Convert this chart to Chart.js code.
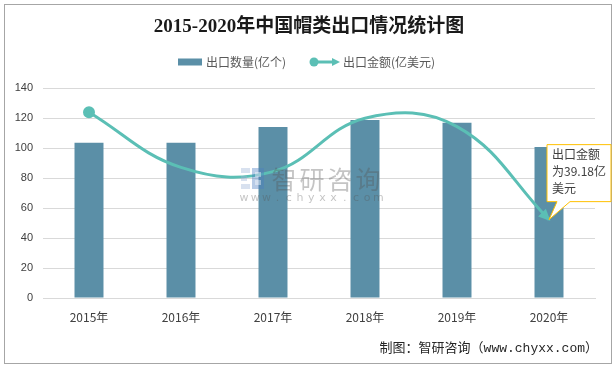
<!DOCTYPE html>
<html><head><meta charset="utf-8">
<script src="https://cdn.jsdelivr.net/npm/chart.js@4.4.1/dist/chart.umd.min.js"></script>
<style>html,body{margin:0;padding:0;background:#fff}#wrap{width:616px;height:370px;position:relative}</style>
</head><body><div id="wrap"><canvas id="c" width="616" height="370"></canvas></div>
<script>
const categories = ['2015年','2016年','2017年','2018年','2019年','2020年'];
const quantity = [103.5, 103.5, 114, 118.7, 116.9, 100.7];
const amount = [92.9, 65.3, 63.2, 89.9, 85.7, 39.18];
const yTicks = [0,20,40,60,80,100,120,140];
const titleText = '2015-2020年中国帽类出口情况统计图';
const seriesNames = ['出口数量(亿个)', '出口金额(亿美元)'];
const calloutLines = ['出口金额', '为39.18亿', '美元'];
const footerText = '制图：智研咨询（www.chyxx.com）';

const BAR = '#5B8FA7', LINE = '#5BBFB5', CJK = '"Noto Sans CJK SC", sans-serif';

const deco = {
  id: 'deco',
  beforeDraw(chart) {
    const ctx = chart.ctx;
    ctx.save();
    ctx.fillStyle = '#fff';
    ctx.fillRect(0, 0, 616, 370);
    ctx.strokeStyle = '#A6A6A6'; ctx.lineWidth = 1;
    ctx.strokeRect(4.5, 4.5, 607, 359);
    ctx.fillStyle = '#1a1a1a';
    ctx.font = 'bold 19px "Liberation Serif", ' + CJK;
    ctx.textAlign = 'center'; ctx.textBaseline = 'middle';
    ctx.fillText(titleText, 309, 27);
    ctx.font = '12px ' + CJK;
    ctx.textAlign = 'left';
    ctx.fillStyle = BAR; ctx.fillRect(178, 58.5, 24, 7);
    ctx.fillStyle = '#595959'; ctx.fillText(seriesNames[0], 206, 62);
    ctx.strokeStyle = LINE; ctx.lineWidth = 3;
    ctx.beginPath(); ctx.moveTo(313, 62); ctx.lineTo(334, 62); ctx.stroke();
    ctx.fillStyle = LINE;
    ctx.beginPath(); ctx.arc(314, 62, 4.5, 0, Math.PI * 2); ctx.fill();
    ctx.beginPath(); ctx.moveTo(340, 62); ctx.lineTo(332, 58); ctx.lineTo(332, 66); ctx.closePath(); ctx.fill();
    ctx.fillStyle = '#595959'; ctx.fillText(seriesNames[1], 343, 62);
    ctx.font = '13px "Liberation Mono", ' + CJK;
    ctx.textAlign = 'right'; ctx.fillStyle = '#262626';
    ctx.fillText(footerText, 598, 349);
    ctx.restore();
  },
  afterDatasetsDraw(chart) {
    const ctx = chart.ctx;
    ctx.save();
    ctx.globalAlpha = 0.4;
    ctx.fillStyle = '#9DB3D6';
    ctx.fillRect(241, 168, 9, 5); ctx.fillRect(241, 176, 6, 5); ctx.fillRect(241, 184, 9, 5);
    ctx.fillStyle = '#4A7CC0';
    ctx.fillRect(252, 168, 12, 21);
    ctx.fillStyle = '#fff'; ctx.fillRect(255, 172, 6, 5); ctx.fillRect(255, 180, 6, 5);
    ctx.globalAlpha = 0.35;
    ctx.fillStyle = '#555';
    ctx.font = '25px ' + CJK;
    ctx.textAlign = 'center'; ctx.textBaseline = 'middle';
    const wm = '智研咨询';
    for (let i = 0; i < wm.length; i++) ctx.fillText(wm[i], 284 + i * 28, 179);
    ctx.font = '11px "DejaVu Sans", sans-serif';
    const w = 'www.chyxx.com';
    for (let i = 0; i < w.length; i++) ctx.fillText(w[i], 244 + i * 11.2, 198);
    ctx.globalAlpha = 1;
    const meta = chart.getDatasetMeta(1);
    const pts = meta.data;
    const last = pts[pts.length - 1];
    const cx = last.cp1x !== undefined ? last.cp1x : pts[pts.length - 2].x;
    const cy = last.cp1y !== undefined ? last.cp1y : pts[pts.length - 2].y;
    const ang = Math.atan2(last.y - cy, last.x - cx);
    ctx.fillStyle = LINE;
    ctx.translate(last.x, last.y); ctx.rotate(ang);
    ctx.beginPath(); ctx.moveTo(2, 0); ctx.lineTo(-10, -5.5); ctx.lineTo(-10, 5.5); ctx.closePath(); ctx.fill();
    ctx.setTransform(1, 0, 0, 1, 0, 0);
    const tx = last.x, ty = last.y;
    const L = tx - 2, T = ty - 75, R = 611, B = ty - 18;
    ctx.beginPath();
    ctx.moveTo(L, T); ctx.lineTo(R, T); ctx.lineTo(R, B); ctx.lineTo(tx + 21, B);
    ctx.lineTo(tx, ty); ctx.lineTo(tx + 8, B); ctx.lineTo(L, B); ctx.closePath();
    ctx.fillStyle = '#fff'; ctx.fill();
    ctx.strokeStyle = '#FFC000'; ctx.lineWidth = 1; ctx.stroke();
    ctx.fillStyle = '#404040'; ctx.font = '12px ' + CJK;
    ctx.textAlign = 'left'; ctx.textBaseline = 'middle';
    calloutLines.forEach((s, i) => ctx.fillText(s, L + 5, T + 10 + i * 17));
    ctx.restore();
  }
};

new Chart(document.getElementById('c'), {
  data: {
    labels: categories,
    datasets: [
      { type: 'bar', label: seriesNames[0], data: quantity, backgroundColor: BAR,
        barPercentage: 1, categoryPercentage: 0.315, yAxisID: 'y', order: 2 },
      { type: 'line', label: seriesNames[1], data: amount, borderColor: LINE, backgroundColor: LINE,
        borderWidth: 3, tension: 0.4, yAxisID: 'y2', order: 1,
        pointRadius: amount.map((v, i) => i === 0 ? 4.5 : 0), pointHoverRadius: 0 }
    ]
  },
  options: {
    responsive: false, animation: false, devicePixelRatio: 1,
    layout: { padding: { top: 88, right: 21, left: 0, bottom: 0 } },
    plugins: { legend: { display: false }, title: { display: false }, tooltip: { enabled: false } },
    scales: {
      x: {
        grid: { display: false, drawTicks: false },
        border: { display: true, color: '#D9D9D9' },
        ticks: { color: '#404040', font: { size: 12, family: CJK }, padding: 12 },
        afterFit: s => { s.height = 72; }
      },
      y: {
        min: 0, max: 140,
        afterBuildTicks: s => { s.ticks = yTicks.map(v => ({ value: v })); },
        grid: { color: '#D9D9D9', drawTicks: false },
        border: { display: false },
        ticks: { color: '#404040', font: { size: 11, family: '"Liberation Sans", sans-serif' }, padding: 10 },
        afterFit: s => { s.width = 43; }
      },
      y2: { min: 0, max: 105, display: false }
    }
  },
  plugins: [deco]
});
</script></body></html>
